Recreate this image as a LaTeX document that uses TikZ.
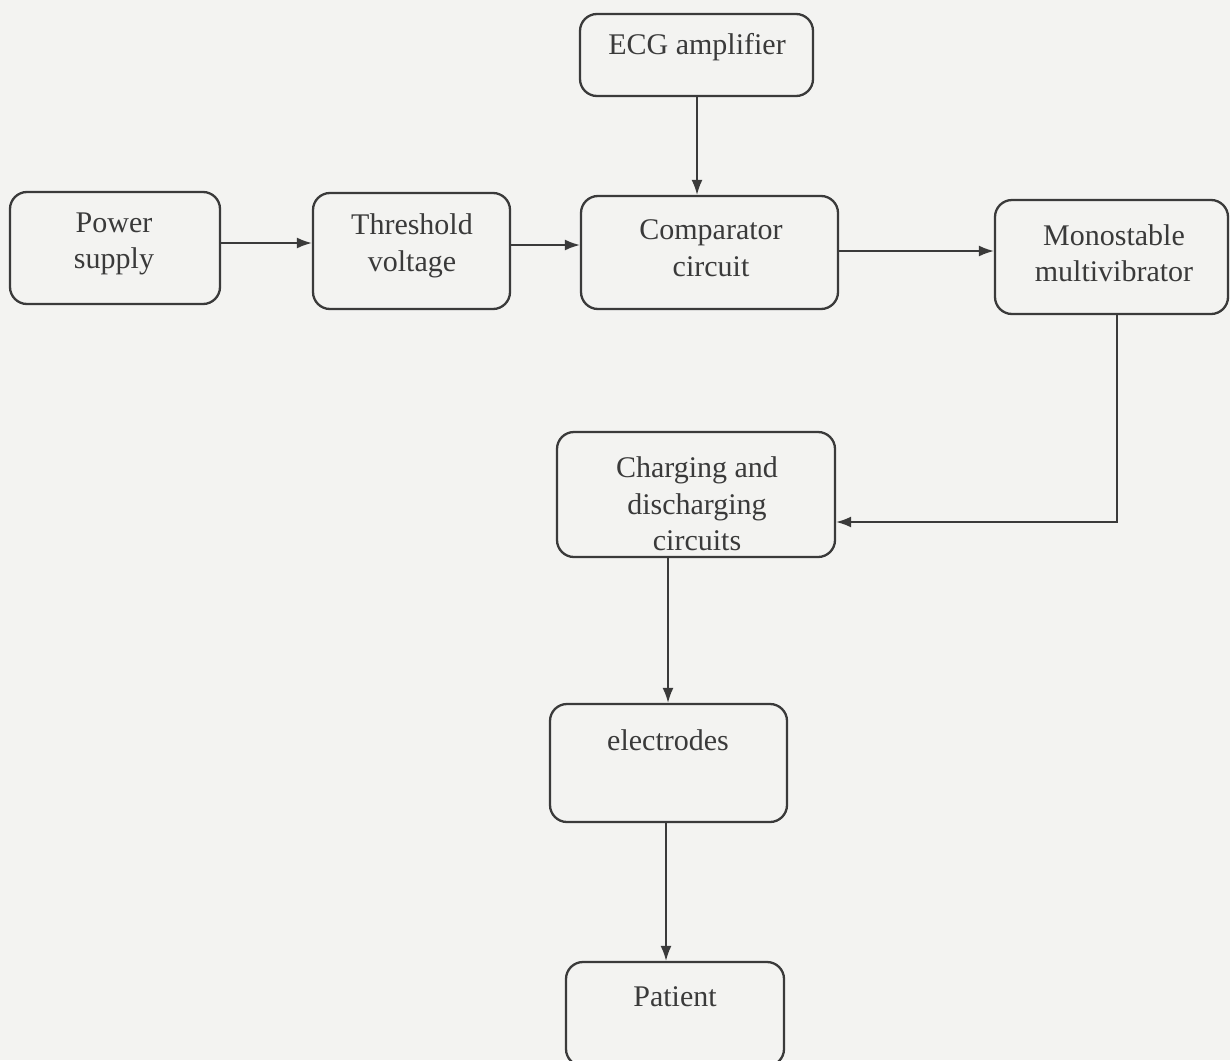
\documentclass[tikz,border=0pt]{standalone}
\usepackage{fontspec}
\setmainfont{Liberation Serif}
\usetikzlibrary{arrows.meta}
\definecolor{ink}{HTML}{3A3A3A}
\definecolor{paper}{HTML}{F3F3F1}
\tikzset{
  blk/.style={draw=ink, line width=2.3pt, rounded corners=17pt, inner sep=0pt},
  lbl/.style={text=ink, align=center, font=\fontsize{30}{36.5}\selectfont, inner sep=0pt},
  conn/.style={draw=ink, line width=1.7pt, -{Latex[length=15pt,width=11pt]}}
}
\newcommand{\blkbox}[5]{% name, x1, y1, x2, y2
  \node[blk, minimum width={#4-#2}, minimum height={#5-#3}] (#1) at ({(#2+#4)/2},{(#3+#5)/2}) {};
}
\begin{document}
\begin{tikzpicture}[x=1pt,y=-1pt]
\fill[paper] (0,0) rectangle (1230,1060);
\useasboundingbox (0,0) rectangle (1230,1060);

\blkbox{ecg}{580}{14}{813}{96}
\blkbox{pow}{10}{192}{220}{304}
\blkbox{thr}{313}{193}{510}{309}
\blkbox{cmp}{581}{196}{838}{309}
\blkbox{mono}{995}{200}{1228}{314}
\blkbox{chg}{557}{432}{835}{557}
\blkbox{ele}{550}{704}{787}{822}
\blkbox{pat}{566}{962}{784}{1066}

\node[lbl] (tecg) at (697,47) {ECG amplifier};
\node[lbl] (tpow) at (114,244) {Power\\supply};
\node[lbl] (tthr) at (412,246) {Threshold\\voltage};
\node[lbl] (tcmp) at (711,248) {Comparator\\circuit};
\node[lbl] (tmono) at (1114,253) {Monostable\\multivibrator};
\node[lbl] (tchg) at (697,504) {Charging and\\discharging\\circuits};
\node[lbl] (tele) at (668,740) {electrodes};
\node[lbl] (tpat) at (675,997) {Patient};

\coordinate (c1) at (1117,522);
\path[conn] (ecg.south -| 697,0) -- (cmp.north -| 697,0);
\path[conn] (pow.east |- 0,243) -- (thr.west |- 0,243);
\path[conn] (thr.east |- 0,245) -- (cmp.west |- 0,245);
\path[conn] (cmp.east |- 0,251) -- (mono.west |- 0,251);
\path[conn] (mono.south -| c1) -- (c1) -- (chg.east |- c1);
\path[conn] (chg.south -| 668,0) -- (ele.north -| 668,0);
\path[conn] (ele.south -| 666,0) -- (pat.north -| 666,0);
\end{tikzpicture}
\end{document}
